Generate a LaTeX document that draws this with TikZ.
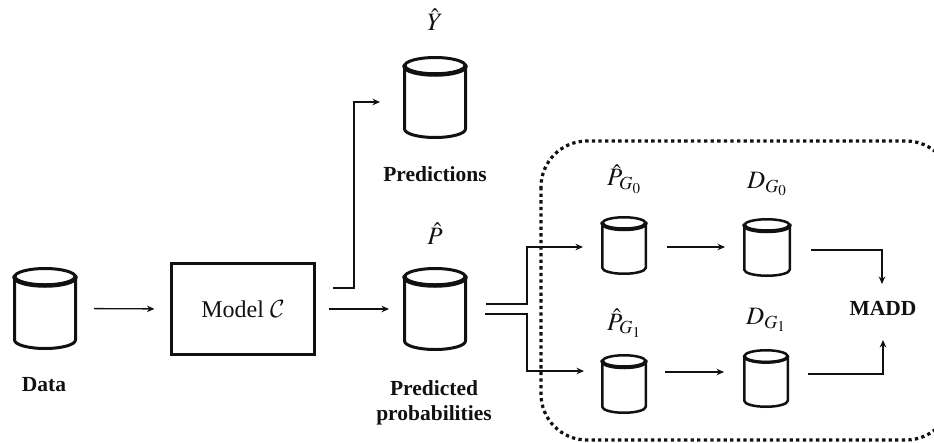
\documentclass[tikz,border=0pt]{standalone}
\usepackage{mathptmx}
\usepackage{fontspec}
\setmainfont{Liberation Serif}
\usetikzlibrary{arrows.meta,calc}
\DeclareMathAlphabet{\mathcalx}{OMS}{cmsy}{m}{n}
\definecolor{ink}{HTML}{111111}
\tikzset{
  cylbox/.style={inner sep=0pt,outer sep=0pt,rectangle},
  conn/.style={draw=ink,line width=1.3pt,-{Stealth[length=7.5pt,width=6.5pt]}},
  boldlabel/.style={inner sep=0pt,align=center,text=ink,font=\fontsize{21.5}{25}\selectfont\bfseries},
  mathlabel/.style={inner sep=0pt,text=ink,font=\fontsize{25}{28}\selectfont},
  modelbox/.style={draw=ink,line width=3pt,inner sep=0pt,outer sep=0pt,minimum width=143pt,minimum height=91pt,text=ink,font=\fontsize{24}{28}\selectfont},
  groupbox/.style={draw=ink,line width=3.2pt,dash pattern=on 3.3pt off 3.3pt,rounded corners=46pt}
}
% name, cx, cy, outer width, outer height, ellipse ry, line width, thick width
\newcommand{\cylnode}[8]{%
  \node[cylbox,minimum width=#4pt,minimum height=#5pt] (#1) at (#2,#3) {};
  \pgfmathsetmacro{\cw}{#4-#7}\pgfmathsetmacro{\ch}{#5-#7}\pgfmathsetmacro{\crx}{\cw/2}
  \begin{scope}[shift={(#2,#3)}]
    \draw[draw=ink,line width=#7pt,line join=round,line cap=round]
      (-\crx,{-\ch/2+#6}) -- (-\crx,{\ch/2-#6})
      arc[start angle=180,end angle=360,x radius=\crx pt,y radius=#6pt]
      -- (\crx,{-\ch/2+#6});
    \draw[draw=ink,line width=#7pt] (0,{-\ch/2+#6}) ellipse[x radius=\crx pt,y radius=#6pt];
    \draw[draw=ink,line width=#8pt,line cap=round] (-\crx,{-\ch/2+#6})
      arc[start angle=180,end angle=360,x radius=\crx pt,y radius=#6pt];
  \end{scope}
}
\begin{document}
\begin{tikzpicture}[x=1pt,y=-1pt]
\useasboundingbox (0,0) rectangle (934,442);
\clip (0,0) rectangle (934,442);

\cylnode{data}{45}{308.5}{64}{83}{8.5}{3}{4.5}
\cylnode{pred}{435}{97.5}{64}{83}{8.5}{3}{4.5}
\cylnode{prob}{435}{309}{64}{84}{8.5}{3}{4.5}
\cylnode{pgz}{624}{245.5}{46}{59}{6}{2.5}{4}
\cylnode{dgz}{767}{247.5}{48}{59}{6}{2.5}{4}
\cylnode{pgo}{624}{384}{46}{60}{6}{2.5}{4}
\cylnode{dgo}{766}{378.5}{46}{59}{6}{2.5}{3.2}

\node[modelbox] (model) at (243,309) {Model $\mathcalx{C}$};
\node[boldlabel] (madd) at (883,308) {MADD};
\node[boldlabel] (ldata) at (44,385) {Data};
\node[boldlabel] (lpred) at (435,174) {Predictions};
\node[boldlabel] (lprob) at (434,402.5) {Predicted\\probabilities};
\node[mathlabel] (ly) at (435,20) {$\hat{Y}$};
\node[mathlabel] (lp) at (435,234) {$\hat{P}$};
\node[mathlabel] (lpgz) at (624,179) {$\hat{P}_{G_0}$};
\node[mathlabel] (ldgz) at (767,184) {$D_{G_0}$};
\node[mathlabel] (lpgo) at (624,323) {$\hat{P}_{G_1}$};
\node[mathlabel] (ldgo) at (766,320) {$D_{G_1}$};

\draw[groupbox] (541,141) rectangle (952,440);

\coordinate (ys) at (333,288);
\coordinate (ye) at (380,102);
\coordinate (us) at (486,304);
\coordinate (ue) at (583,247);
\coordinate (ls) at (485,314);
\coordinate (le) at (584,371);
\coordinate (ma) at (811,250);
\coordinate (mb) at (808,374);
\coordinate (mae) at (882,284);
\coordinate (mbe) at (883,340);
\coordinate (a1) at (667,247);
\coordinate (a2) at (725,247);
\coordinate (b1) at (665,372);
\coordinate (b2) at (724,372);

\draw[conn,shorten <=17pt,shorten >=17pt] (data.east) -- (model.west);
\draw[conn,shorten <=14pt,shorten >=14pt] (model.east) -- (prob.west);
\draw[conn] (ys) -| (354,102) -- (ye);
\draw[conn] (us) -- (527,304) -- (527,247) -- (ue);
\draw[conn] (ls) -- (527,314) -- (527,371) -- (le);
\draw[conn] (a1) -- (a2);
\draw[conn] (b1) -- (b2);
\draw[conn] (ma) -| (mae);
\draw[conn] (mb) -| (mbe);
\end{tikzpicture}
\end{document}
